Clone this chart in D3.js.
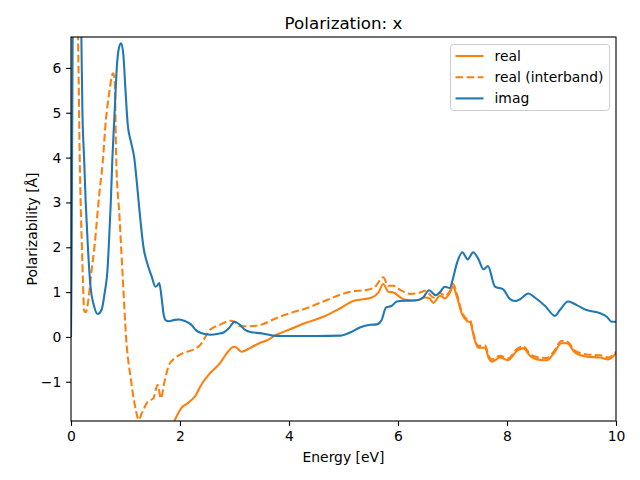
<!DOCTYPE html>
<html><head><meta charset="utf-8">
<script src="https://cdn.jsdelivr.net/npm/d3@7"></script>
<style>body{margin:0;background:#fff}svg{display:block}text{font-family:"DejaVu Sans",sans-serif}</style>
</head><body>
<script>
const xTicks=[0,2,4,6,8,10];
const yTicks=[-1,0,1,2,3,4,5,6];
const seriesNames=["real","real (interband)","imag"];
const realX=[1.7,1.9,2.05,2.12,2.2,2.29,2.37,2.55,2.73,2.85,2.95,3.01,3.13,3.28,3.47,3.59,3.77,4.02,4.32,4.63,4.94,5.18,5.36,5.52,5.64,5.73,5.82,5.92,6.07,6.22,6.37,6.5,6.58,6.65,6.77,6.86,6.95,7.01,7.08,7.17,7.26,7.33,7.38,7.47,7.6,7.66,7.72,7.87,8.02,8.18,8.3,8.42,8.55,8.73,8.85,9.0,9.1,9.25,9.46,9.71,9.86,10.0];
const realY=[-2.6,-1.87,-1.55,-1.5,-1.42,-1.3,-1.11,-0.81,-0.59,-0.38,-0.24,-0.22,-0.33,-0.25,-0.13,-0.08,0.05,0.17,0.32,0.45,0.64,0.8,0.84,0.88,0.99,1.18,1.01,0.99,0.86,0.81,0.82,0.88,0.86,0.76,0.92,0.86,0.98,1.12,0.9,0.52,0.36,0.32,0.06,-0.24,-0.24,-0.46,-0.55,-0.46,-0.52,-0.31,-0.25,-0.42,-0.5,-0.52,-0.38,-0.14,-0.14,-0.35,-0.44,-0.46,-0.5,-0.36];
const interX=[0.1,0.13,0.16,0.2,0.22,0.24,0.27,0.31,0.37,0.43,0.52,0.58,0.64,0.7,0.77,0.8,0.83,0.89,0.95,1.01,1.1,1.19,1.24,1.3,1.41,1.51,1.59,1.65,1.71,1.8,1.9,2.08,2.21,2.37,2.55,2.73,2.92,3.01,3.1,3.28,3.53,3.71,4.02,4.32,4.63,4.94,5.12,5.43,5.58,5.73,5.82,5.92,6.04,6.22,6.4,6.5,6.58,6.65,6.77,6.86,6.95,7.01,7.08,7.17,7.26,7.33,7.38,7.47,7.6,7.66,7.72,7.87,8.02,8.18,8.3,8.42,8.55,8.73,8.85,9.0,9.1,9.25,9.46,9.71,9.86,10.0];
const interY=[9,6.7,4,2,1.2,0.6,0.55,0.75,1.4,2.01,3.2,3.87,4.84,5.43,5.88,5.73,3.95,2.68,1.31,0,-0.96,-1.63,-1.85,-1.7,-1.44,-1.37,-1.07,-1.37,-1.03,-0.62,-0.48,-0.35,-0.3,-0.18,0.16,0.27,0.36,0.33,0.24,0.24,0.29,0.39,0.53,0.64,0.79,0.94,1.01,1.05,1.12,1.33,1.14,1.14,1.05,0.96,0.99,1.03,0.95,0.88,0.98,0.92,1.02,1.18,0.96,0.56,0.4,0.36,0.1,-0.2,-0.19,-0.41,-0.5,-0.42,-0.48,-0.27,-0.21,-0.38,-0.45,-0.47,-0.34,-0.09,-0.1,-0.31,-0.39,-0.41,-0.46,-0.33];
const imagX=[0.0,0.01,0.03,0.06,0.1,0.14,0.19,0.21,0.24,0.27,0.31,0.36,0.42,0.49,0.56,0.62,0.67,0.7,0.73,0.76,0.8,0.84,0.88,0.92,0.96,1.0,1.04,1.1,1.16,1.2,1.25,1.33,1.41,1.48,1.55,1.58,1.62,1.66,1.7,1.74,1.8,1.9,1.99,2.1,2.2,2.3,2.4,2.55,2.7,2.8,2.9,3.0,3.1,3.2,3.3,3.5,3.7,3.9,4.5,4.94,5.12,5.3,5.49,5.61,5.7,5.78,5.88,5.98,6.16,6.34,6.46,6.57,6.69,6.77,6.86,6.95,7.01,7.08,7.18,7.28,7.38,7.47,7.57,7.65,7.78,7.93,8.05,8.15,8.24,8.39,8.51,8.7,8.88,8.97,9.12,9.28,9.46,9.71,9.83,9.92,10.0];
const imagY=[0.0,1.5,6.7,9.5,10,8.5,6.7,5.0,4.0,3.0,2.0,1.1,0.7,0.51,0.6,1.0,1.5,2.2,3.0,4.0,5.0,6.0,6.45,6.55,6.3,5.5,4.75,4.35,4.0,3.55,2.9,2.0,1.6,1.35,1.12,1.14,1.2,0.9,0.5,0.37,0.35,0.38,0.39,0.35,0.28,0.14,0.08,0.05,0.07,0.1,0.2,0.34,0.27,0.15,0.11,0.08,0.03,0.02,0.02,0.03,0.1,0.21,0.27,0.28,0.38,0.66,0.69,0.79,0.81,0.82,0.88,1.04,0.93,1.0,1.12,1.09,1.31,1.64,1.89,1.73,1.89,1.75,1.51,1.58,1.12,1.06,0.85,0.8,0.84,0.97,0.88,0.69,0.47,0.6,0.79,0.71,0.6,0.53,0.45,0.34,0.34];

const W=640,H=480,L=71,R=616,T=37,B=421;
const FS=13.9, LW=2.08, DASH="7.7,3.33";
const svg=d3.select("body").append("svg").attr("width",W).attr("height",H);
const x=d3.scaleLinear().domain([0,10]).range([L,R]);
const y=d3.scaleLinear().domain([-1.875,6.69]).range([B,T]);
svg.append("defs").append("clipPath").attr("id","c").append("rect").attr("x",L).attr("y",T).attr("width",R-L).attr("height",B-T);
const line=d3.line().x(d=>x(d[0])).y(d=>y(d[1])).curve(d3.curveMonotoneX);
const g=svg.append("g").attr("clip-path","url(#c)");
const zip=(a,b)=>a.map((v,i)=>[v,b[i]]);
g.append("path").attr("d",line(zip(realX,realY))).attr("fill","none").attr("stroke","#ff7f0e").attr("stroke-width",LW);
g.append("path").attr("d",line(zip(interX,interY))).attr("fill","none").attr("stroke","#ff7f0e").attr("stroke-width",LW).attr("stroke-dasharray",DASH);
g.append("path").attr("d",line(zip(imagX,imagY))).attr("fill","none").attr("stroke","#1f77b4").attr("stroke-width",LW);
const xa=svg.append("g").attr("transform",`translate(0,${B})`).call(d3.axisBottom(x).tickValues(xTicks).tickFormat(d3.format("d")).tickSizeOuter(0).tickSize(4.86).tickPadding(4.86));
const ya=svg.append("g").attr("transform",`translate(${L},0)`).call(d3.axisLeft(y).tickValues(yTicks).tickFormat(d=>d<0?"\u2212"+Math.abs(d):d).tickSizeOuter(0).tickSize(4.86).tickPadding(4.86));
[xa,ya].forEach(a=>{a.select(".domain").remove();a.selectAll("text").attr("font-size",FS).attr("fill","#000").attr("font-family","DejaVu Sans");a.selectAll("line").attr("stroke","#000").attr("stroke-width",1.11);});
svg.append("rect").attr("x",L).attr("y",T).attr("width",R-L).attr("height",B-T).attr("fill","none").attr("stroke","#000").attr("stroke-width",1.11);
svg.append("text").attr("x",(L+R)/2).attr("y",29).attr("text-anchor","middle").attr("font-size",16.7).text("Polarization: x");
svg.append("text").attr("x",(L+R)/2).attr("y",462).attr("text-anchor","middle").attr("font-size",FS).text("Energy [eV]");
svg.append("text").attr("transform",`translate(36.5,${(T+B)/2}) rotate(-90)`).attr("text-anchor","middle").attr("font-size",FS).text("Polarizability [\u00c5]");
const lg=svg.append("g");
lg.append("rect").attr("x",450.5).attr("y",44.5).attr("width",159).attr("height",66).attr("rx",3).attr("fill","#fff").attr("fill-opacity",0.8).attr("stroke","#cccccc").attr("stroke-width",1);
const styles=[{c:"#ff7f0e",d:null},{c:"#ff7f0e",d:DASH},{c:"#1f77b4",d:null}];
seriesNames.forEach((n,i)=>{const yy=56+i*21.2;
 lg.append("line").attr("x1",455.5).attr("x2",483.5).attr("y1",yy).attr("y2",yy).attr("stroke",styles[i].c).attr("stroke-width",LW).attr("stroke-dasharray",styles[i].d);
 lg.append("text").attr("x",494.5).attr("y",yy+5).attr("font-size",FS).text(n);});
</script></body></html>
